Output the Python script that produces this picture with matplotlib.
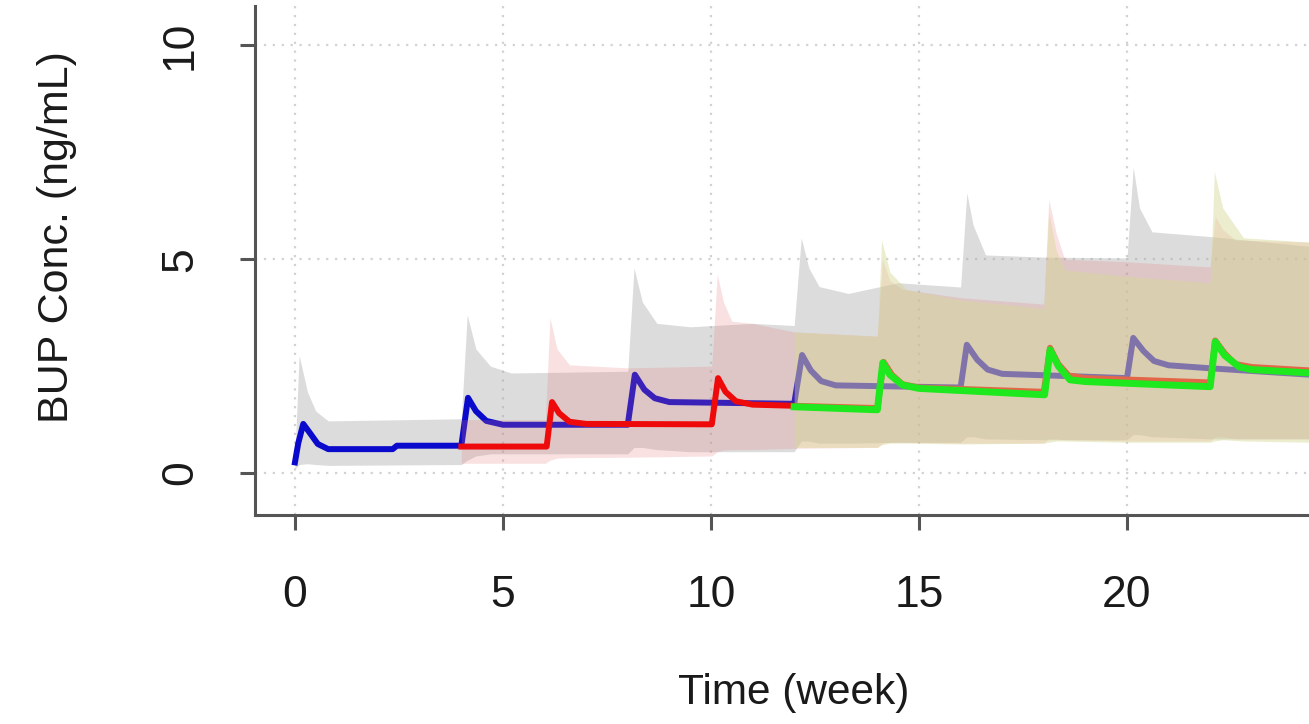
import matplotlib
matplotlib.use("Agg")
import matplotlib.pyplot as plt

# Regimen 1 (blue median, grey 90% band): doses every 4 weeks from week 0
blue_t = [0.0, 0.08, 0.2, 0.35, 0.55, 0.8, 2.35, 2.45, 4.0,
          4.16, 4.35, 4.6, 5.0, 8.0,
          8.17, 8.4, 8.65, 9.0, 12.0,
          12.19, 12.4, 12.65, 13.0, 16.0,
          16.15, 16.4, 16.65, 17.0, 20.0,
          20.15, 20.4, 20.65, 21.0, 22.0, 24.4]
blue_conc = [0.25, 0.7, 1.15, 0.95, 0.68, 0.56, 0.56, 0.64, 0.64,
             1.76, 1.45, 1.22, 1.13, 1.13,
             2.3, 1.95, 1.75, 1.66, 1.62,
             2.76, 2.4, 2.15, 2.05, 2.0,
             3.0, 2.65, 2.42, 2.32, 2.22,
             3.16, 2.85, 2.62, 2.52, 2.45, 2.3]

grey_t = [0.0, 0.1, 0.3, 0.5, 0.8, 4.0,
          4.14, 4.35, 4.7, 5.2, 8.0,
          8.15, 8.35, 8.7, 9.5, 11.0, 12.0,
          12.17, 12.35, 12.6, 13.3, 14.5, 16.0,
          16.15, 16.3, 16.6, 18.0, 20.0,
          20.15, 20.3, 20.6, 22.0, 24.4]
grey_hi = [0.4, 2.75, 1.9, 1.45, 1.22, 1.27,
           3.7, 2.9, 2.5, 2.34, 2.38,
           4.8, 4.0, 3.5, 3.42, 3.5, 3.45,
           5.5, 4.8, 4.36, 4.2, 4.45, 4.35,
           6.55, 5.8, 5.1, 5.05, 5.03,
           7.15, 6.2, 5.64, 5.53, 5.3]
grey_lo = [0.1, 0.2, 0.22, 0.2, 0.18, 0.2,
           0.3, 0.4, 0.45, 0.45, 0.45,
           0.6, 0.6, 0.55, 0.5, 0.5, 0.5,
           0.75, 0.75, 0.7, 0.7, 0.72, 0.72,
           0.85, 0.85, 0.8, 0.78, 0.78,
           0.9, 0.9, 0.85, 0.8, 0.8]

# Regimen 2 (red median, pink band): switch at week 4, doses from week 6
red_t = [4.0, 6.05, 6.18, 6.35, 6.6, 7.0, 10.02,
         10.17, 10.35, 10.6, 11.0, 14.0,
         14.15, 14.35, 14.6, 15.0, 18.0,
         18.15, 18.35, 18.6, 19.0, 22.0,
         22.12, 22.35, 22.6, 23.0, 24.4]
red_conc = [0.62, 0.62, 1.66, 1.4, 1.2, 1.15, 1.14,
            2.22, 1.9, 1.68, 1.6, 1.52,
            2.6, 2.3, 2.08, 2.0, 1.9,
            2.93, 2.55, 2.28, 2.22, 2.12,
            3.1, 2.8, 2.55, 2.48, 2.4]

pink_t = [4.0, 6.02, 6.13, 6.3, 6.6, 8.0, 10.02,
          10.15, 10.3, 10.5, 11.0, 12.0, 14.0,
          14.12, 14.3, 14.6, 16.0, 18.0,
          18.12, 18.3, 18.5, 20.0, 22.0,
          22.12, 22.3, 22.6, 24.4]
pink_hi = [1.25, 1.25, 3.63, 2.9, 2.53, 2.46, 2.5,
           4.65, 4.0, 3.55, 3.5, 3.3, 3.2,
           5.0, 4.5, 4.3, 4.1, 3.95,
           6.4, 5.6, 5.0, 4.94, 4.82,
           6.0, 5.7, 5.45, 5.4]
pink_lo = [0.23, 0.23, 0.3, 0.35, 0.36, 0.37, 0.4,
           0.5, 0.54, 0.55, 0.55, 0.58, 0.6,
           0.7, 0.72, 0.72, 0.7, 0.7,
           0.8, 0.8, 0.78, 0.75, 0.75,
           0.85, 0.85, 0.8, 0.8]

# Regimen 3 (green median, khaki band): switch at week 12, doses from week 14
green_t = [12.0, 14.0, 14.13, 14.3, 14.6, 15.0, 18.02,
           18.15, 18.35, 18.63, 19.0, 22.0,
           22.12, 22.35, 22.7, 23.0, 24.4]
green_conc = [1.55, 1.48, 2.58, 2.3, 2.06, 1.98, 1.83,
              2.88, 2.5, 2.18, 2.14, 2.02,
              3.07, 2.75, 2.48, 2.42, 2.34]

khaki_t = [12.0, 14.0, 14.1, 14.3, 14.7, 16.0, 18.0,
           18.12, 18.3, 18.5, 20.0, 22.0,
           22.1, 22.3, 22.8, 24.4]
khaki_hi = [3.3, 3.2, 5.45, 4.7, 4.29, 4.05, 3.85,
            6.1, 5.2, 4.75, 4.6, 4.45,
            7.05, 6.2, 5.5, 5.4]
khaki_lo = [0.6, 0.6, 0.66, 0.7, 0.7, 0.68, 0.7,
            0.72, 0.75, 0.75, 0.72, 0.72,
            0.75, 0.78, 0.75, 0.72]

x_ticks = [0, 5, 10, 15, 20]
y_ticks = [0, 5, 10]

plt.rcParams["font.family"] = ["Liberation Sans", "DejaVu Sans"]

fig = plt.figure(figsize=(13.09, 7.24), dpi=100)
ax = fig.add_axes([255 / 1309, 209 / 724, 1054 / 1309, 509 / 724])

# dotted R-style grid
for xv in x_ticks:
    ax.axvline(xv, color="#d2d2d2", linestyle=(0, (1, 3)), linewidth=1.6, zorder=0)
for yv in y_ticks:
    ax.axhline(yv, color="#d2d2d2", linestyle=(0, (1, 3)), linewidth=1.6, zorder=0)

# bands and medians, layered like the original
ax.fill_between(grey_t, grey_lo, grey_hi, color="#a8a8a8", alpha=0.4, linewidth=0, zorder=1)
ax.plot(blue_t, blue_conc, color="#0a0acc", linewidth=4.3, zorder=2)
ax.fill_between(pink_t, pink_lo, pink_hi, color="#e67878", alpha=0.22, linewidth=0, zorder=3)
ax.plot(red_t, red_conc, color="#ee0a0a", linewidth=4.3, zorder=4)
ax.fill_between(khaki_t, khaki_lo, khaki_hi, color="#d7d896", alpha=0.45, linewidth=0, zorder=5)
ax.plot(green_t, green_conc, color="#1ee81e", linewidth=5.0, zorder=6)

ax.set_xlim(-0.96, 24.375)
ax.set_ylim(-0.98, 10.92)

ax.set_xticks(x_ticks)
ax.set_yticks(y_ticks)
ax.set_xticklabels([str(v) for v in x_ticks], fontsize=32, color="#1a1a1a")
ax.set_yticklabels([str(v) for v in y_ticks], fontsize=32, color="#1a1a1a",
                   rotation=90, va="center")
ax.tick_params(axis="x", length=11, width=2.2, color="#555555", pad=32)
ax.tick_params(axis="y", length=11, width=2.2, color="#555555", pad=28)

for side in ["top", "right"]:
    ax.spines[side].set_visible(False)
for side in ["left", "bottom"]:
    ax.spines[side].set_color("#555555")
    ax.spines[side].set_linewidth(2.2)

fig.text(794 / 1309, 1 - 693 / 724, "Time (week)", fontsize=30.5, color="#1a1a1a",
         ha="center", va="center")
fig.text(57 / 1309, 1 - 237 / 724, "BUP Conc. (ng/mL)", fontsize=31, color="#1a1a1a",
         ha="center", va="center", rotation=90)

fig.savefig("out.png", dpi=100)
